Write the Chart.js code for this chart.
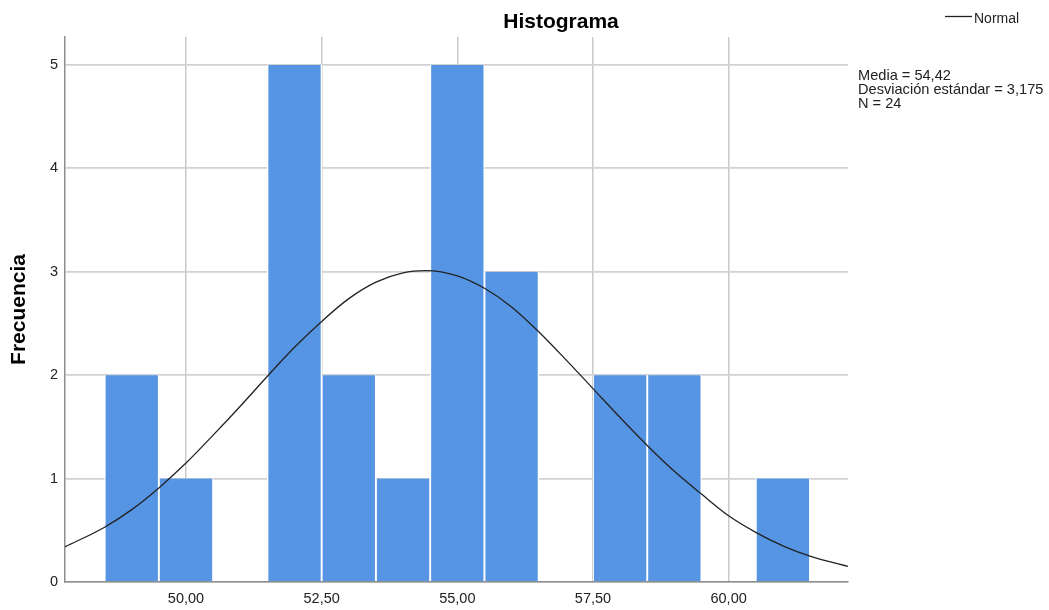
<!DOCTYPE html>
<html>
<head>
<meta charset="utf-8">
<title>Histograma</title>
<script src="https://cdn.jsdelivr.net/npm/chart.js@4"></script>
<style>
    body { margin: 0; background: #fff; }
    #wrap { width: 1049px; height: 610px; }
</style>
</head>
<body>
<div id="wrap"><canvas id="hist-chart" width="1049" height="610"></canvas></div>
<script>
// Histogram bins (bin centres, width 1) and counts
const binCenters = [49, 50, 51, 52, 53, 54, 55, 56, 57, 58, 59, 60, 61];
const frequencies = [2, 1, 0, 5, 2, 1, 5, 3, 0, 2, 2, 0, 1];

// Normal curve, points
const normalX = [47.77, 48.5, 49, 49.5, 50, 50.5, 51, 51.5, 52, 52.5, 53, 53.5, 54, 54.42,
                 55, 55.5, 56, 56.5, 57, 57.5, 58, 58.5, 59, 59.5, 60, 60.5, 61, 61.5, 62.2];
const normalY = [0.34, 0.53, 0.70, 0.91, 1.15, 1.42, 1.70, 1.99, 2.27, 2.52, 2.74, 2.90, 2.99, 3.01,
                 2.96, 2.84, 2.66, 2.42, 2.15, 1.87, 1.59, 1.32, 1.07, 0.85, 0.64, 0.48, 0.35, 0.25, 0.15];

const xTickValues = [50, 52.5, 55, 57.5, 60];
const yTickValues = [0, 1, 2, 3, 4, 5];
const statLines = ['Media = 54,42', 'Desviación estándar = 3,175', 'N = 24'];

const FONT = "'Liberation Sans', Arial, sans-serif";

document.addEventListener('DOMContentLoaded', function() {
    const canvas = document.getElementById('hist-chart');

    // title, legend and stats box drawn at fixed spots like SPSS does
    const extrasPlugin = {
        id: 'spssExtras',
        afterDraw: function(chart) {
            const ctx = chart.ctx;
            ctx.save();
            ctx.fillStyle = '#000';
            ctx.font = 'bold 21px ' + FONT;
            ctx.textAlign = 'center';
            ctx.textBaseline = 'alphabetic';
            ctx.fillText('Histograma', 561, 28);

            // legend
            ctx.strokeStyle = '#222';
            ctx.lineWidth = 1.3;
            ctx.beginPath();
            ctx.moveTo(945, 16.5);
            ctx.lineTo(972, 16.5);
            ctx.stroke();
            ctx.fillStyle = '#222';
            ctx.font = '14px ' + FONT;
            ctx.textAlign = 'left';
            ctx.fillText('Normal', 974, 22.5);

            // stats
            ctx.font = '14.6px ' + FONT;
            statLines.forEach((line, i) => {
                ctx.fillText(line, 858, 79.5 + i * 14.2);
            });
            ctx.restore();
        }
    };

    new Chart(canvas, {
        type: 'bar',
        data: {
            datasets: [{
                type: 'line',
                label: 'Normal',
                data: normalX.map((x, i) => ({ x: x, y: normalY[i] })),
                borderColor: '#222',
                borderWidth: 1.3,
                pointRadius: 0,
                cubicInterpolationMode: 'monotone',
                fill: false,
                order: 0
            }, {
                type: 'bar',
                label: 'Frecuencia',
                data: binCenters.map((x, i) => ({ x: x, y: frequencies[i] })),
                backgroundColor: '#5595e3',
                borderColor: '#ffffff',
                borderWidth: { left: 1.3, right: 1.3, top: 0, bottom: 0 },
                borderSkipped: false,
                categoryPercentage: 1,
                barPercentage: 1,
                order: 1
            }]
        },
        options: {
            responsive: false,
            animation: false,
            devicePixelRatio: 1,
            layout: { padding: { top: 37, right: 201, left: 0, bottom: 0 } },
            plugins: {
                legend: { display: false },
                tooltip: { enabled: false }
            },
            scales: {
                x: {
                    type: 'linear',
                    offset: false,
                    min: 47.77,
                    max: 62.2,
                    afterBuildTicks: function(scale) {
                        scale.ticks = xTickValues.map(v => ({ value: v }));
                    },
                    afterFit: function(scale) { scale.height = 28; },
                    grid: { color: '#c9c9c9', lineWidth: 1.5, drawTicks: false, offset: false },
                    border: { color: '#8e8e8e', width: 1.5 },
                    ticks: {
                        font: { family: FONT, size: 14.5 },
                        color: '#222',
                        padding: 8,
                        maxRotation: 0,
                        autoSkip: false,
                        callback: v => v.toFixed(2).replace('.', ',')
                    }
                },
                y: {
                    min: 0,
                    max: 5.27,
                    afterBuildTicks: function(scale) {
                        scale.ticks = yTickValues.map(v => ({ value: v }));
                    },
                    afterFit: function(scale) { scale.width = 65; },
                    grid: { color: '#d2d2d2', lineWidth: 1.8, drawTicks: false },
                    border: { color: '#8e8e8e', width: 1.5 },
                    ticks: {
                        font: { family: FONT, size: 14.5 },
                        color: '#222',
                        padding: 7,
                        callback: v => String(v)
                    },
                    title: {
                        display: true,
                        text: 'Frecuencia',
                        color: '#000',
                        font: { family: FONT, size: 21, weight: 'bold' },
                        padding: { top: 7, bottom: 0 }
                    }
                }
            }
        },
        plugins: [extrasPlugin]
    });
});
</script>
</body>
</html>
